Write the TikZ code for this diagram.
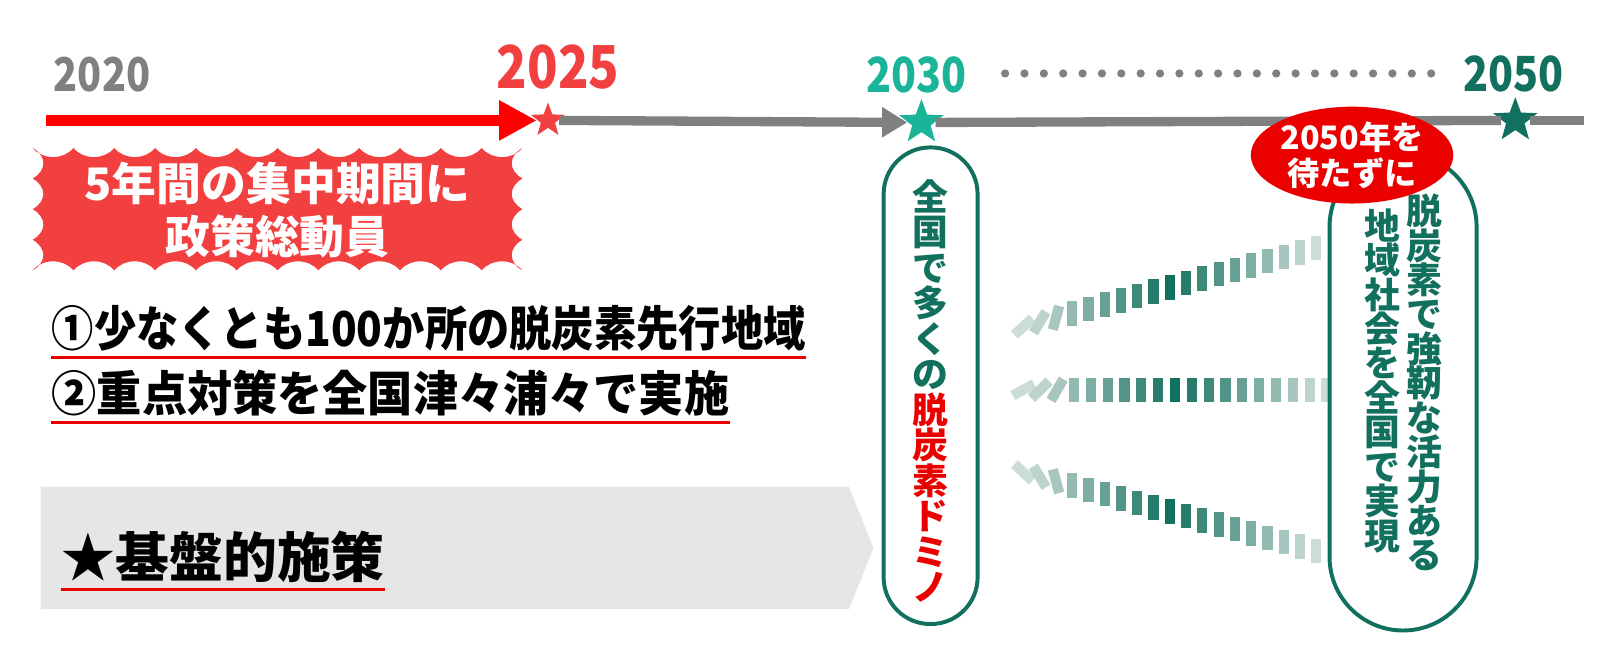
\documentclass[tikz,border=0pt]{standalone}
\usepackage{fontspec}
\usepackage{graphicx}
\setmainfont{Noto Sans CJK JP}
\usetikzlibrary{positioning,shapes.geometric,arrows.meta}
\definecolor{axisgray}{RGB}{128,128,128}
\definecolor{burstred}{RGB}{242,64,64}
\definecolor{domred}{RGB}{235,0,0}
\definecolor{lineteal}{RGB}{27,180,152}
\definecolor{darkteal}{RGB}{18,112,94}
\definecolor{domlight}{RGB}{212,224,220}
\definecolor{basegray}{RGB}{230,230,230}
\setlength{\lineskiplimit}{-5pt}

\begin{document}
\begin{tikzpicture}[x=0.1mm,y=-0.1mm,
  year label/.style={font=\bfseries\fontsize{13}{13}\selectfont,inner sep=0pt},
  star node/.style={star,star points=5,star point ratio=2.4,inner sep=0pt,minimum size=#1},
  red arrow/.style={draw=red,line width=3pt,-{Triangle[length=10.5pt,width=10.5pt]}},
  gray arrow/.style={draw=axisgray,line width=2.6pt,-{Triangle[length=7pt,width=8pt]}},
  gray line/.style={draw=axisgray,line width=2.6pt},
  dot line/.style={draw=axisgray,line width=2.3pt,line cap=round,dash pattern=on 0pt off 5.4pt},
  burst text/.style={text=white,font=\bfseries\fontsize{12.5}{14.8}\selectfont,align=center,inner sep=0pt},
  item text/.style={font=\bfseries\fontsize{13.4}{14}\selectfont,inner sep=0pt,anchor=west},
  under line/.style={draw=domred,line width=0.85pt},
  capsule/.style={draw=darkteal,fill=white,line width=1.1pt},
  vtext/.style={text=darkteal,font=\bfseries\fontsize{10}{9.9}\selectfont,align=center,inner sep=0pt},
  wait tag/.style={ellipse,fill=domred,text=white,inner sep=0pt,align=center,
    font=\bfseries\fontsize{9}{10}\selectfont,minimum width=54pt,minimum height=27pt}]
  \useasboundingbox (0,0) rectangle (1568,643);

  % years and stars
  \node[year label,text=axisgray] (y2020) at (100,73) {\scalebox{0.85}[1]{2020}};
  \node[year label,text=burstred,font=\bfseries\fontsize{16.5}{16.5}\selectfont] (y2025) at (547,66) {\scalebox{0.85}[1]{2025}};
  \node[year label,text=lineteal,font=\bfseries\fontsize{13.5}{13.5}\selectfont] (y2030) at (898,73) {\scalebox{0.85}[1]{2030}};
  \node[year label,text=darkteal,font=\bfseries\fontsize{13.5}{13.5}\selectfont] (y2050) at (1483,72) {\scalebox{0.85}[1]{2050}};

  \coordinate (t0) at (45,118);
  \coordinate (t1) at (1552,118);
  \coordinate (d0) at (985,72);
  \coordinate (d1) at (1405,72);

  \node[star node=10pt,fill=burstred] (s2025) at (537,118) {};
  \node[star node=13pt,fill=lineteal] (s2030) at (903,120) {};
  \node[star node=13pt,fill=darkteal] (s2050) at (1485,118) {};

  \path[red arrow] (t0) -- (s2025.west);
  \path[gray arrow] (s2025.east) -- (s2030.west);
  \path[gray line] (s2030.east) -- (s2050.west);
  \path[gray line] (s2050.east) -- (t1);
  \path[dot line] (d0) -- (d1);

  % red burst
  \fill[burstred] (32,145)
    foreach \k in {1,...,12} { .. controls +(10,12) and +(-10,12) .. ++(40,0) }
    foreach \k in {1,...,4} { .. controls +(-14,8) and +(-14,-8) .. ++(0,30) }
    foreach \k in {1,...,12} { .. controls +(-10,-12) and +(10,-12) .. ++(-40,0) }
    foreach \k in {1,...,4} { .. controls +(14,-8) and +(14,8) .. ++(0,-30) } -- cycle;
  \node[burst text] (burst) at (272,206) {5年間の集中期間に\\政策総動員};

  % two goals
  \node[item text] (item1) at (50,322) {\scalebox{0.88}[1]{①少なくとも100か所の脱炭素先行地域}};
  \node[item text] (item2) at (50,385) {\scalebox{0.94}[1]{②重点対策を全国津々浦々で実施}};
  \path[under line] ([yshift=-1.5pt]item1.south west) -- ([yshift=-1.5pt]item1.south east);
  \path[under line] ([yshift=-1.5pt]item2.south west) -- ([yshift=-1.5pt]item2.south east);

  % base measures
  \fill[basegray] (40,477) -- (832,477) -- (856,537) -- (832,597) -- (40,597) -- cycle;
  \node[item text,font=\bfseries\fontsize{15}{15}\selectfont] (base) at (60,546) {★基盤的施策};
  \path[under line] ([yshift=-1.5pt]base.south west) -- ([yshift=-1.5pt]base.south east);

  % dominoes
  \foreach \ox/\oy/\rot/\ys in {1003/320/15/1, 1003/382/0/1, 1003/463/-15/-1} {
    \begin{scope}[shift={(\ox,\oy)},rotate=\rot,yscale=\ys]
      \foreach \i in {0,...,18} {
        \pgfmathsetmacro\m{max(4,100-abs(\i-9)*11)}
        \pgfmathsetmacro\x{\i*16.5}
        \pgfmathsetmacro\tilt{ifthenelse(\i<3,-62+\i*16,0-(\rot)*(\ys))}
        \fill[fill=darkteal!\m!domlight,rotate around={\tilt:(\x,0)}] (\x-5,-12) rectangle (\x+5,12);
      }
    \end{scope}
  }

  % 2030
  \node[capsule,minimum width=26.2pt,minimum height=132.9pt,rounded corners=13pt] (cap2030) at (912,378) {};
  \node[vtext] (dom2030) at (912,383) {全\\国\\で\\多\\く\\の\\\textcolor{domred}{脱}\\\textcolor{domred}{炭}\\\textcolor{domred}{素}\\\textcolor{domred}{ド}\\\textcolor{domred}{ミ}\\\textcolor{domred}{ノ}};

  % 2050
  \node[capsule,minimum width=41pt,minimum height=133.1pt,rounded corners=20.5pt] (cap2050) at (1375,384) {};
  \node[vtext,font=\bfseries\fontsize{10}{9.6}\selectfont] (col1) at (1396,375) {脱\\炭\\素\\で\\強\\靭\\な\\活\\力\\あ\\る};
  \node[vtext,font=\bfseries\fontsize{10}{9.6}\selectfont] (col2) at (1355,373) {地\\域\\社\\会\\を\\全\\国\\で\\実\\現};
  \node[wait tag] (wait) at (1325,152) {2050年を\\待たずに};
\end{tikzpicture}
\end{document}
